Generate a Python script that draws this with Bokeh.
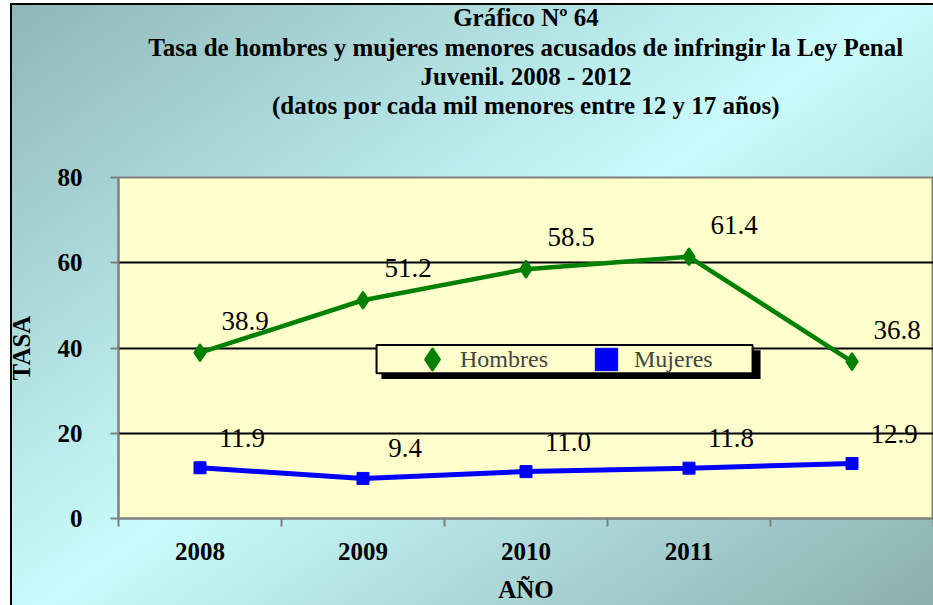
from bokeh.plotting import figure
from bokeh.models import (Range1d, FixedTicker, LabelSet, ColumnDataSource,
                          Legend, LegendItem, BoxAnnotation, Title)
from bokeh.core.properties import value
from bokeh.embed import file_html
from bokeh.resources import INLINE

# ---- data ----
years = ["2008", "2009", "2010", "2011", "2012"]
xtick_labels = ["2008", "2009", "2010", "2011", ""]
hombres = [38.9, 51.2, 58.5, 61.4, 36.8]
mujeres = [11.9, 9.4, 11.0, 11.8, 12.9]
y_ticks = [0, 20, 40, 60, 80]
grid_values = [20, 40, 60]
title_lines = [
    "Gráfico Nº 64",
    "Tasa de hombres y mujeres menores acusados de infringir la Ley Penal",
    "Juvenil. 2008 - 2012",
    "(datos por cada mil menores entre 12 y 17 años)",
]

FONT = "Liberation Serif"
GREY = "#808080"
Y_MAX = y_ticks[-1]

xpos = [i + 0.5 for i in range(len(years))]
src = ColumnDataSource(dict(
    x=xpos, h=hombres, m=mujeres,
    hl=[f"{v:.1f}" for v in hombres],
    ml=[f"{v:.1f}" for v in mujeres],
))

p = figure(width=933, height=605, output_backend="svg", toolbar_location=None,
           x_range=Range1d(0, len(years)), y_range=Range1d(0, Y_MAX),
           min_border_left=118, min_border_right=0, min_border_top=10,
           min_border_bottom=87)

# title: spacer next to the frame, then lines bottom-up
p.add_layout(Title(text=" ", text_font=FONT, text_font_size="25px", standoff=30),
             "above")
for i, line in reversed(list(enumerate(title_lines))):
    p.add_layout(Title(text=line, align="center", text_font=FONT,
                       text_font_size="25px", text_font_style="bold",
                       text_color="black", standoff=(2 if i == 0 else 0)),
                 "above")

# backgrounds
p.background_fill_color = "#FFFFCC"
p.border_fill_color = None
p.styles = {
    "background": (
        "linear-gradient(#000,#000) 10px 3px / 2px calc(100% - 3px) no-repeat, "
        "linear-gradient(#000,#000) 10px 3px / calc(100% - 10px) 2px no-repeat, "
        "linear-gradient(145deg, #8fb6b7 0%, #c9fcfc 50%, #8cafaf 100%) "
        "12px 5px / calc(100% - 12px) calc(100% - 5px) no-repeat, #ffffff"
    ),
}
p.outline_line_color = GREY
p.outline_line_width = 2

# grid
p.xgrid.visible = False
p.ygrid.ticker = FixedTicker(ticks=grid_values)
p.ygrid.grid_line_color = "black"
p.ygrid.grid_line_width = 2

# x axis
p.xaxis.ticker = FixedTicker(ticks=xpos, minor_ticks=list(range(len(years) + 1)))
p.xaxis.major_label_overrides = {x: t for x, t in zip(xpos, xtick_labels)}
p.xaxis.major_tick_out = 0
p.xaxis.major_tick_in = 0
p.xaxis.minor_tick_out = 8
p.xaxis.minor_tick_in = 0
p.xaxis.minor_tick_line_color = GREY
p.xaxis.minor_tick_line_width = 2
p.xaxis.axis_label = "AÑO"
p.xaxis.major_label_standoff = 16
p.xaxis.axis_label_standoff = 13

# y axis
p.yaxis.ticker = FixedTicker(ticks=y_ticks)
p.yaxis.major_tick_out = 8
p.yaxis.major_tick_in = 0
p.yaxis.major_tick_line_color = GREY
p.yaxis.major_tick_line_width = 2
p.yaxis.axis_label = "TASA"
p.yaxis.major_label_standoff = 28
p.yaxis.axis_label_standoff = 20

for ax in (p.xaxis, p.yaxis):
    ax.axis_line_color = GREY
    ax.axis_line_width = 2
    ax.major_label_text_font = FONT
    ax.major_label_text_font_size = "25px"
    ax.major_label_text_font_style = "bold"
    ax.major_label_text_color = "black"
    ax.axis_label_text_font = FONT
    ax.axis_label_text_font_size = "25px"
    ax.axis_label_text_font_style = "bold"
    ax.axis_label_text_color = "black"

# legend box with shadow (decoration)
p.add_layout(BoxAnnotation(left=1.613, right=3.939, top=39.5, bottom=32.7,
                           fill_color="black", fill_alpha=1, line_color=None,
                           level="overlay"))
p.add_layout(BoxAnnotation(left=1.583, right=3.890, top=40.7, bottom=34.1,
                           fill_color="#FFFFCC", fill_alpha=1, line_color="black",
                           line_alpha=1, line_width=2, level="overlay"))

# series
p.line("x", "h", source=src, line_color="#008000", line_width=4.5)
rh = p.scatter("x", "h", source=src, marker="diamond", size=17,
               fill_color="#008000", line_color="#008000", line_width=2)
p.line("x", "m", source=src, line_color="#0000FF", line_width=5)
rm = p.scatter("x", "m", source=src, marker="square", size=12,
               fill_color="#0000FF", line_color="#0000FF")

for ycol, col, xo, yo in (("h", "hl", 45, 32), ("m", "ml", 42, 30)):
    p.add_layout(LabelSet(x="x", y=ycol, text=col, source=src,
                          x_offset=xo, y_offset=yo, text_align="center",
                          text_baseline="middle", text_font=value(FONT),
                          text_font_size=value("27px"), text_color="black"))

legend = Legend(items=[LegendItem(label="Hombres", renderers=[rh]),
                       LegendItem(label="Mujeres", renderers=[rm])],
                orientation="horizontal", location=(286, 131),
                padding=0, margin=0, spacing=30, label_standoff=0,
                glyph_width=56, glyph_height=56,
                label_text_font=FONT, label_text_font_size="24px",
                background_fill_alpha=0, border_line_color=None)
p.add_layout(legend, "center")

open("out.html", "w").write(file_html(p, INLINE))
